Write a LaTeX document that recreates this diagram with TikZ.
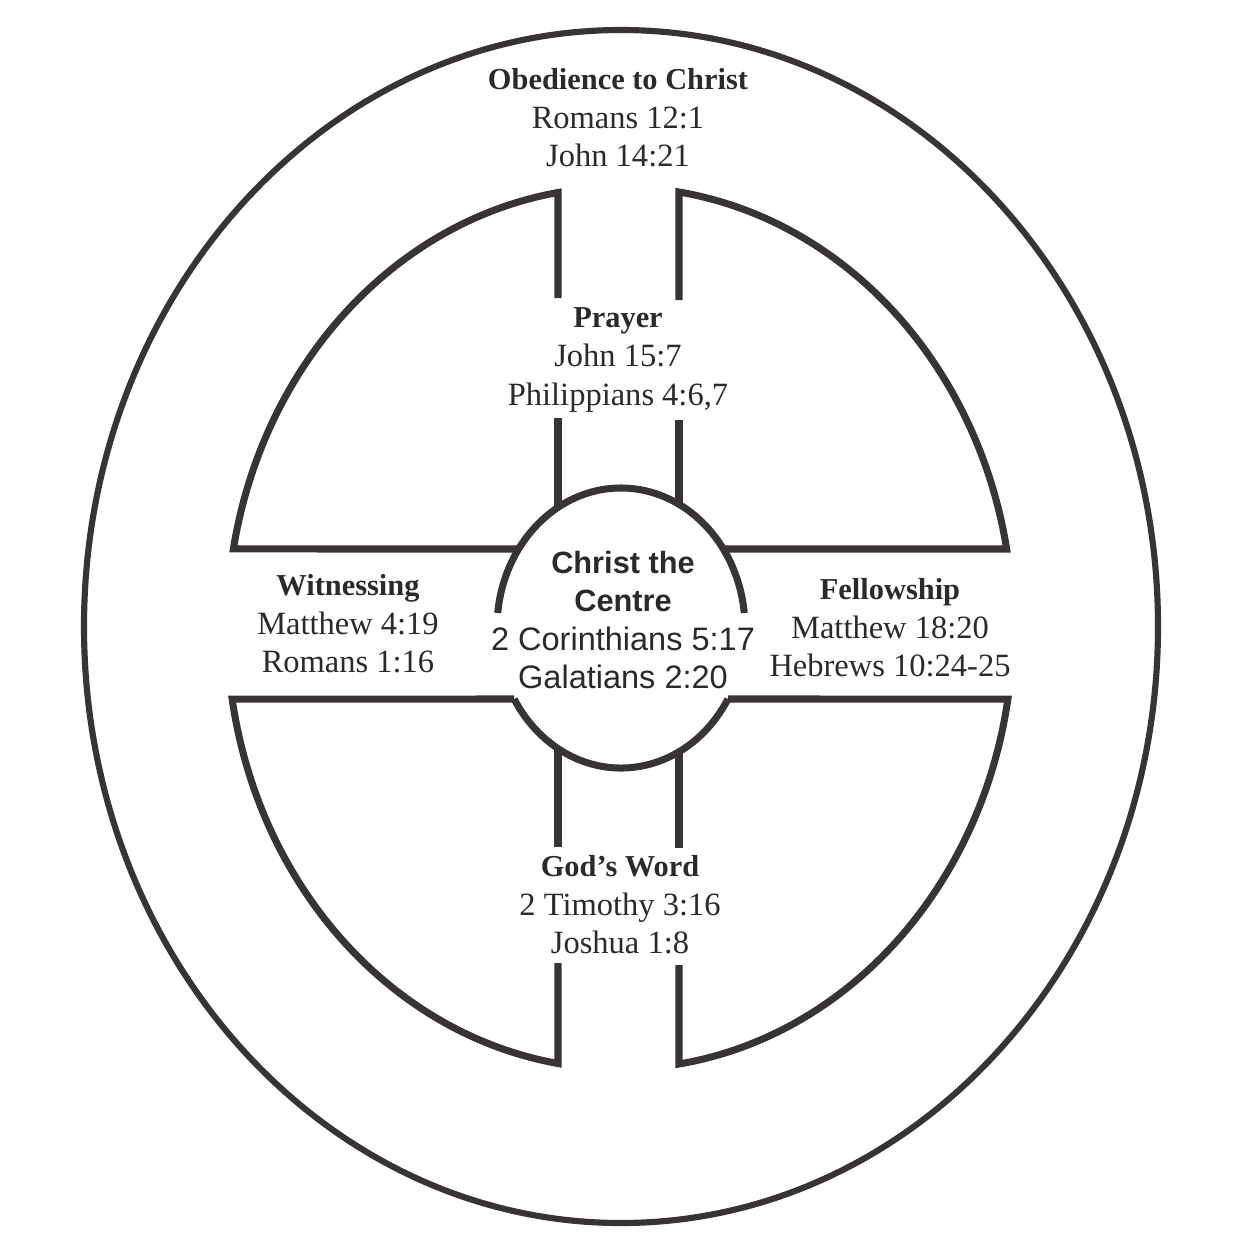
\documentclass[tikz,border=0pt]{standalone}
\usepackage{fontspec}
\setmainfont{Liberation Serif}
\setsansfont{Liberation Sans}
\definecolor{ink}{RGB}{56,51,53}
\newcommand{\head}[1]{{\fontsize{17.3}{22}\selectfont\bfseries #1}}
\tikzset{
  rim/.style={draw=ink, line width=4pt, line join=miter},
  lbl/.style={align=center, text=ink!80!black, inner sep=0pt,
    font=\fontsize{18.5}{22}\selectfont}
}
\begin{document}
\begin{tikzpicture}[x=0.02cm, y=-0.02cm]
    \useasboundingbox (0,0) rectangle (1248,1251);
    \draw[draw=ink, line width=3.5pt] (621,626.5) ellipse [x radius=537, y radius=596.5];
    \draw[rim] (558,298) -- (558,192.5) arc[start angle=260.92, end angle=190.32, x radius=393, y radius=441] -- (518.6,549);
    \draw[rim] (679,300) -- (679,192) arc[start angle=278.63, end angle=349.68, x radius=393, y radius=441] -- (723.4,549);
    \draw[rim] (679,965) -- (679,1064) arc[start angle=81.37, end angle=9.265, x radius=393, y radius=441] -- (727.9,699);
    \draw[rim] (558,963) -- (558,1063.5) arc[start angle=99.08, end angle=170.735, x radius=393, y radius=441] -- (514.1,699);
    \draw[rim] (558,418) -- (558,507.4);
    \draw[rim] (679,420) -- (679,504.3);
    \draw[rim] (558,749) -- (558,847);
    \draw[rim] (679,752) -- (679,848);
    \draw[rim] (497.7,613) arc[start angle=186.15, end angle=353.85, x radius=124, y radius=140];
    \draw[rim] (727.9,699) arc[start angle=30.47, end angle=149.53, x radius=124, y radius=140];
    \node[lbl] (obedience) at (618,118) {\head{Obedience to Christ}\\Romans 12:1\\John 14:21};
    \node[lbl] (prayer) at (618,360) {\head{Prayer}\\John 15:7\\Philippians 4:6,7};
    \node[lbl] (witnessing) at (348,624) {\head{Witnessing}\\Matthew 4:19\\Romans 1:16};
    \node[lbl] (fellowship) at (890,628) {\head{Fellowship}\\Matthew 18:20\\Hebrews 10:24-25};
    \node[lbl, font=\fontsize{18.5}{21.8}\selectfont\sffamily] (centre) at (623,620) {{\fontsize{17.5}{21.8}\selectfont\bfseries Christ the}\\{\fontsize{17.5}{21.8}\selectfont\bfseries Centre}\\2 Corinthians 5:17\\Galatians 2:20};
    \node[lbl] (godsword) at (620,905) {\head{God’s Word}\\2 Timothy 3:16\\Joshua 1:8};
\end{tikzpicture}
\end{document}
